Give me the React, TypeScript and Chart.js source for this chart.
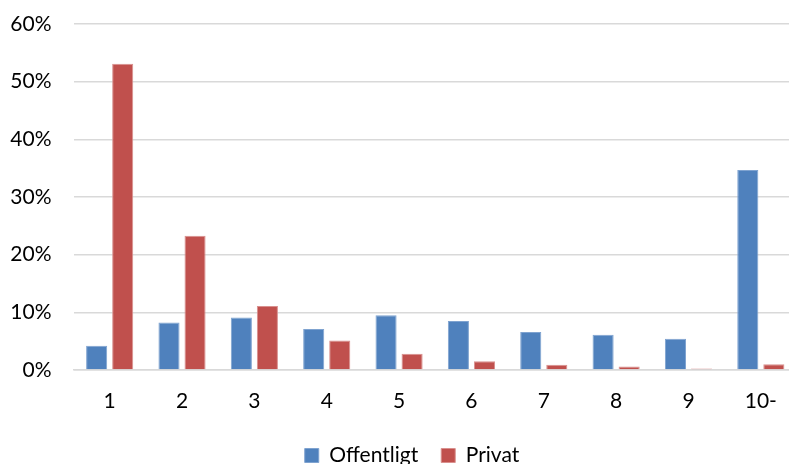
import React, { useEffect, useRef } from "react";
import { Chart, registerables } from "chart.js";

Chart.register(...registerables);

const categories = ["1", "2", "3", "4", "5", "6", "7", "8", "9", "10-"];
const offentligt = [4.2, 8.25, 9.1, 7.1, 9.5, 8.5, 6.6, 6.1, 5.4, 34.7];
const privat = [53.1, 23.3, 11.1, 5.1, 2.8, 1.5, 0.9, 0.6, 0.25, 1.0];
const yTicks = [0, 10, 20, 30, 40, 50, 60];

const FONT = "Lato, 'Open Sans', sans-serif";
const FS = 21;

export default function App() {
  const ref = useRef<HTMLCanvasElement>(null);
  useEffect(() => {
    if (!ref.current) return;
    const chart = new Chart(ref.current, {
      type: "bar",
      data: {
        labels: categories,
        datasets: [
          {
            label: "Offentligt",
            data: offentligt,
            backgroundColor: "#4F81BD",
            borderColor: "#7FA3D0",
            borderWidth: 1,
            categoryPercentage: 0.72,
            barPercentage: 0.81,
          },
          {
            label: "Privat",
            data: privat,
            backgroundColor: "#C0504D",
            borderColor: "#D9908E",
            borderWidth: 1,
            categoryPercentage: 0.72,
            barPercentage: 0.81,
          },
        ],
      },
      options: {
        responsive: false,
        animation: false,
        layout: { padding: { top: 24, right: 0, left: 0, bottom: 0 } },
        plugins: {
          tooltip: { enabled: false },
          legend: {
            position: "bottom",
            labels: {
              color: "#000",
              font: { family: FONT, size: FS },
              boxWidth: 14,
              boxHeight: 14,
              padding: 23,
            },
          },
        },
        scales: {
          x: {
            grid: { display: false, drawTicks: false },
            border: { color: "#D9D9D9", width: 1.5 },
            ticks: { color: "#000", font: { family: FONT, size: FS }, padding: 19 },
            afterFit: (s: any) => {
              s.height = 52;
            },
          },
          y: {
            min: 0,
            max: 60,
            afterBuildTicks: (s: any) => {
              s.ticks = yTicks.map((v) => ({ value: v }));
            },
            grid: {
              color: "#D9D9D9",
              lineWidth: 1.5,
              drawTicks: true,
              tickLength: 22,
              tickColor: "rgba(0,0,0,0)",
            },
            border: { display: false },
            ticks: {
              color: "#000",
              font: { family: FONT, size: FS },
              padding: 0,
              callback: (v: any) => v + "%",
            },
            afterFit: (s: any) => {
              s.width = 73.5;
            },
          },
          yRight: {
            position: "right",
            min: 0,
            max: 60,
            grid: { display: false, drawTicks: false },
            border: { display: false },
            ticks: { display: false },
            afterFit: (s: any) => {
              s.width = 27;
            },
          },
        },
      },
    });
    return () => chart.destroy();
  }, []);
  return (
    <div style={{ position: "fixed", left: 0, top: 0, width: 789, height: 464, overflow: "hidden", background: "#fff" }}>
      <canvas ref={ref} width={824} height={476} style={{ width: 824, height: 476, display: "block" }} />
    </div>
  );
}
